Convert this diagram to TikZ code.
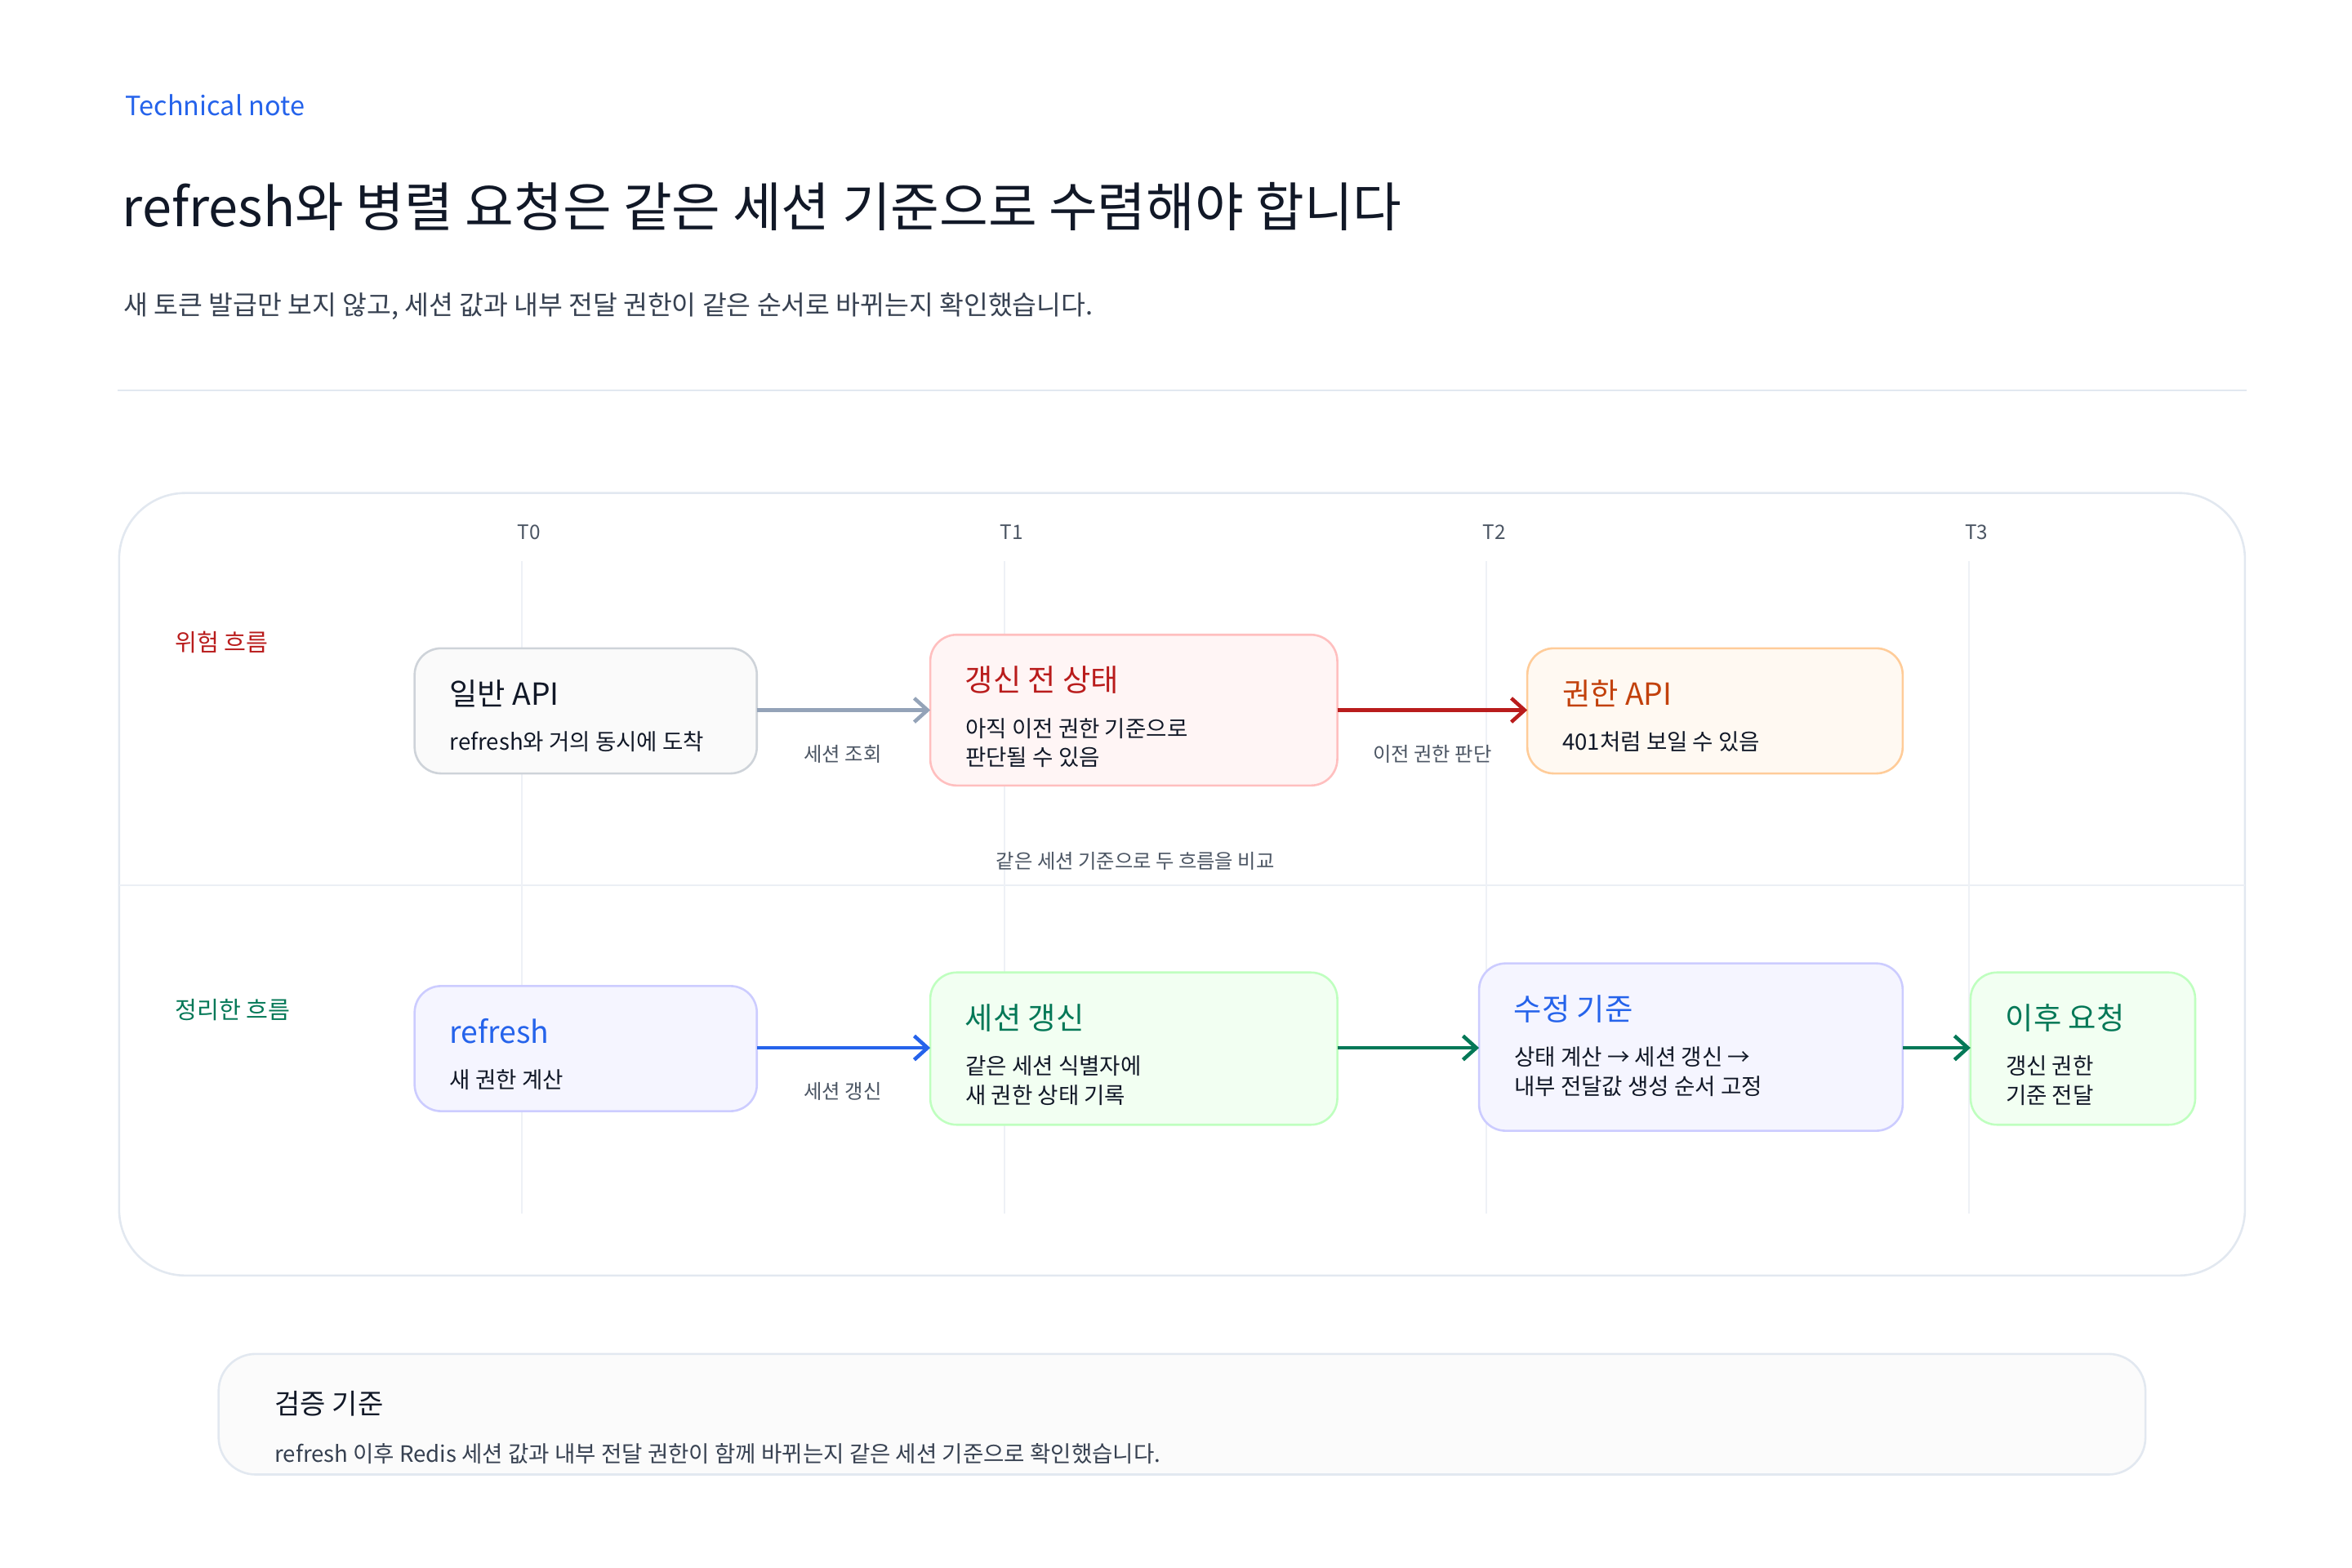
\documentclass[tikz,border=0pt]{standalone}
\usepackage{fontspec}
\setmainfont{Noto Sans CJK KR}
\usetikzlibrary{arrows.meta, positioning}
\definecolor{notblue}{RGB}{37, 99, 235}
\definecolor{inkdark}{RGB}{17, 24, 39}
\definecolor{inkmid}{RGB}{55, 65, 81}
\definecolor{inksoft}{RGB}{75, 85, 99}
\definecolor{rulegray}{RGB}{226, 232, 240}
\definecolor{riskred}{RGB}{185, 28, 28}
\definecolor{fixgreen}{RGB}{4, 120, 87}
\definecolor{warnorange}{RGB}{194, 65, 12}
\definecolor{arrowgray}{RGB}{148, 163, 184}
\tikzset{
  stagebox/.style={draw, line width=0.8pt, rounded corners=10pt},
  boxtitle/.style={anchor=west, font=\fontsize{11.5}{13}\selectfont},
  boxbody/.style={anchor=north west, align=left, font=\fontsize{8.5}{11}\selectfont, text=inkdark, inner sep=0pt},
  steplabel/.style={font=\fontsize{7.5}{9}\selectfont, text=inksoft},
  flow/.style={line width=1.4pt, -{Straight Barb[length=5pt, width=9pt, line width=1.4pt]}}
}
\begin{document}
\begin{tikzpicture}[x=0.02cm, y=-0.02cm]
\useasboundingbox (0,0) rectangle (1560,1040);
% header
\node[anchor=west, text=notblue, font=\fontsize{10}{12}\selectfont] (note) at (77,70) {Technical note};
\node[anchor=west, text=inkdark, font=\fontsize{20}{24}\selectfont] (title) at (75,137) {refresh와 병렬 요청은 같은 세션 기준으로 수렴해야 합니다};
\node[anchor=west, text=inkmid, font=\fontsize{10}{12}\selectfont] (sub) at (76,203) {새 토큰 발급만 보지 않고, 세션 값과 내부 전달 권한이 같은 순서로 바뀌는지 확인했습니다.};
\draw[rulegray, line width=0.8pt] (78,259) -- (1490,259);

% frame
\draw[rulegray, line width=0.8pt, rounded corners=25pt] (79,327) rectangle (1489,846);
\draw[rulegray!70, line width=0.6pt] (79,587) -- (1489,587);

% time guides
\foreach \x/\t in {346/T0, 666/T1, 986/T2, 1306/T3} {
  \draw[rulegray!60, line width=0.6pt] (\x,372) -- (\x,805);
  \node[steplabel] at (\x+5,353) {\t};
}

\node[anchor=west, text=riskred, font=\fontsize{9}{11}\selectfont] (risk) at (110,426) {위험 흐름};
\node[anchor=west, text=fixgreen, font=\fontsize{9}{11}\selectfont] (fix) at (110,670) {정리한 흐름};

% risk row
\draw[stagebox, draw=rulegray!80!gray, fill=gray!4] (275,430) rectangle (502,513);
\node[boxtitle, text=inkdark] at (292,460) {일반 API};
\node[boxbody] at (298,485) {refresh와 거의 동시에 도착};
\coordinate (apiR) at (502,471);

\draw[stagebox, draw=red!25, fill=red!4] (617,421) rectangle (887,521);
\node[boxtitle, text=riskred] at (634,451) {갱신 전 상태};
\node[boxbody] at (640,476) {아직 이전 권한 기준으로\\판단될 수 있음};
\coordinate (oldL) at (617,471);
\coordinate (oldR) at (887,471);

\draw[stagebox, draw=orange!40, fill=orange!5] (1013,430) rectangle (1262,513);
\node[boxtitle, text=warnorange] at (1030,460) {권한 API};
\node[boxbody] at (1036,485) {401처럼 보일 수 있음};
\coordinate (authL) at (1013,471);

\draw[flow, arrowgray] (apiR) -- (oldL);
\node[steplabel] at (559,500) {세션 조회};
\draw[flow, riskred] (oldR) -- (authL);
\node[steplabel] at (950,500) {이전 권한 판단};

\node[steplabel] (compare) at (753,571) {같은 세션 기준으로 두 흐름을 비교};

% fixed row
\draw[stagebox, draw=blue!20, fill=blue!4] (275,654) rectangle (502,737);
\node[boxtitle, text=notblue] at (292,684) {refresh};
\node[boxbody] at (298,709) {새 권한 계산};
\coordinate (refR) at (502,695);

\draw[stagebox, draw=green!25, fill=green!5] (617,645) rectangle (887,746);
\node[boxtitle, text=fixgreen] at (634,675) {세션 갱신};
\node[boxbody] at (640,700) {같은 세션 식별자에\\새 권한 상태 기록};
\coordinate (sesL) at (617,695);
\coordinate (sesR) at (887,695);

\draw[stagebox, draw=blue!20, fill=blue!4] (981,639) rectangle (1262,750);
\node[boxtitle, text=notblue] at (998,669) {수정 기준};
\node[boxbody] at (1004,694) {상태 계산 → 세션 갱신 →\\내부 전달값 생성 순서 고정};
\coordinate (ruleL) at (981,695);
\coordinate (ruleR) at (1262,695);

\draw[stagebox, draw=green!25, fill=green!5] (1307,645) rectangle (1456,746);
\node[boxtitle, text=fixgreen] at (1324,675) {이후 요청};
\node[boxbody] at (1330,700) {갱신 권한\\기준 전달};
\coordinate (nextL) at (1307,695);

\draw[flow, notblue] (refR) -- (sesL);
\node[steplabel] at (559,724) {세션 갱신};
\draw[flow, fixgreen] (sesR) -- (ruleL);
\draw[flow, fixgreen] (ruleR) -- (nextL);

% check box
\draw[rulegray, line width=0.8pt, fill=gray!3, rounded corners=14pt] (145,898) rectangle (1423,978);
\node[anchor=west, text=inkdark, font=\fontsize{10.5}{12}\selectfont] (check) at (176,931) {검증 기준};
\node[anchor=west, text=inkmid, font=\fontsize{8.5}{10}\selectfont] (checktxt) at (176,964) {refresh 이후 Redis 세션 값과 내부 전달 권한이 함께 바뀌는지 같은 세션 기준으로 확인했습니다.};
\end{tikzpicture}
\end{document}
